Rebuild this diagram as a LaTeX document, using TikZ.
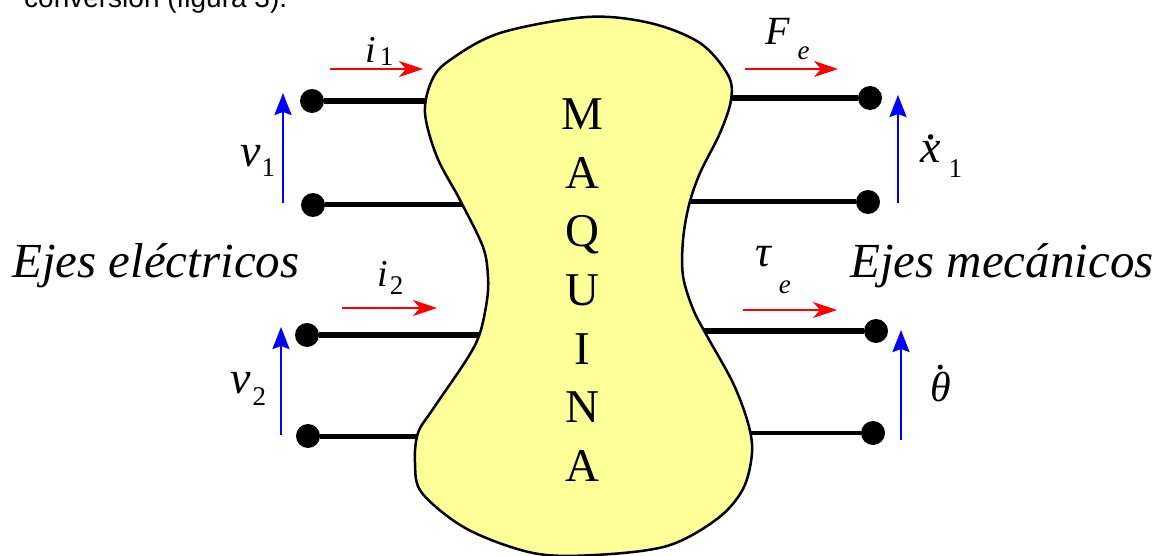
\documentclass[tikz,border=0pt]{standalone}
\usepackage{fontspec}
\IfFontExistsTF{Liberation Serif Italic}
  {\setmainfont{Liberation Serif}[ItalicFont={Liberation Serif Italic}]}
  {\setmainfont{Liberation Serif}[ItalicFont={Liberation Serif}, ItalicFeatures={FakeSlant=0.2}]}
\newfontfamily\topfont{Liberation Sans}
\usetikzlibrary{arrows.meta}
\definecolor{MachineYellow}{RGB}{255,255,153}
\definecolor{FlowRed}{RGB}{255,0,0}
\definecolor{EffortBlue}{RGB}{0,0,255}

% symbol, subscript, gap, drop
\newcommand{\subsize}{\fontsize{27}{27}\selectfont}
\newcommand{\sublab}[4]{#1\kern#3\raisebox{-#4}{\subsize #2}}
% dot over a symbol (time derivative)
\newcommand{\dotsym}[2][0pt]{\setbox0\hbox{#2}\rlap{\hbox to\wd0{\hss\kern#1\raisebox{\dimexpr\ht0+2pt\relax}{.}\hss}}\box0}

\tikzset{
  terminal/.style={circle, fill=black, inner sep=0pt, minimum size=24pt},
  flow/.style={FlowRed, line width=2pt, -{Stealth[length=24pt,width=16pt,inset=7pt]}},
  effort/.style={EffortBlue, line width=2.5pt, -{Stealth[length=22pt,width=17pt,inset=3pt]}},
  lab/.style={inner sep=0pt, anchor=base west},
}

\begin{document}
\begin{tikzpicture}[x=1pt,y=-1pt]
    \useasboundingbox (0,0) rectangle (1173,556);
    \clip (0,0) rectangle (1173,556);

    % text cut off by the top edge
    \node[lab, font=\topfont\fontsize{28}{28}\selectfont] (caption) at (24,8) {conversión (figura 3).};

    % terminals and wires
    \foreach \nm/\px/\py/\bx/\lw in {lone/312/101/445/5.5, ltwo/313/205/475/5,
        lthree/307/335/490/5.5, lfour/308/436/430/5,
        rone/870/98/715/5.5, rtwo/868/202/670/5,
        rthree/876/331/690/5.5, rfour/873/433/735/4} {
      \node[terminal] (\nm) at (\px,\py) {};
      \coordinate (\nm-b) at (\bx,\py);
      \draw[line width=\lw pt] (\nm) -- (\nm-b);
    }

    % machine body
    \draw[fill=MachineYellow, draw=black, line width=2.5pt]
      plot[smooth cycle, tension=0.55] coordinates {
        (587,17) (650,23) (700,43) (728,75) (731,100) (720,133) (700,173)
        (689,205) (683,240) (683,276) (693,309) (707,336) (733,383) (748,423)
        (752,453) (743,489) (717,519) (667,546) (595,555) (533,553) (467,529)
        (422,493) (415,463) (418,433) (433,409) (467,359) (480,333) (487,300)
        (488,277) (483,247) (460,200) (437,157) (425,113) (432,80) (450,60)
        (500,33)};

    % vertical name
    \foreach \ch [count=\k] in {M,A,Q,U,I,N,A} {
      \node[inner sep=0pt, anchor=base, font=\fontsize{47}{47}\selectfont] (m\k) at (582,{130+58.5*(\k-1)}) {\ch};
    }

    % currents, force and torque
    \foreach \nm/\xa/\xb/\yy in {ione/330/423/69, itwo/342/437/308,
        force/745/838/69, torque/743/837/310} {
      \coordinate (\nm-s) at (\xa,\yy);
      \coordinate (\nm-e) at (\xb,\yy);
      \draw[flow] (\nm-s) -- (\nm-e);
    }

    % voltages and speeds
    \foreach \nm/\xx/\ya/\yb in {vone/283/203/93, vtwo/281/435/327,
        xone/898/203/95, thone/901/440/330} {
      \coordinate (\nm-s) at (\xx,\ya);
      \coordinate (\nm-e) at (\xx,\yb);
      \draw[effort] (\nm-s) -- (\nm-e);
    }

    % labels
    \node[lab, font=\fontsize{38}{38}\selectfont\itshape] (ilab1) at (365,63) {\sublab{i}{\upshape 1}{4pt}{3pt}};
    \node[lab, font=\fontsize{38}{38}\selectfont\itshape] (ilab2) at (377,287) {\sublab{i}{\upshape 2}{2pt}{8pt}};
    \node[lab, font=\fontsize{46}{46}\selectfont\itshape] (vlab1) at (240,167) {\sublab{v}{\upshape 1}{1pt}{10pt}};
    \node[lab, font=\fontsize{46}{46}\selectfont\itshape] (vlab2) at (230,393) {\sublab{v}{\upshape 2}{2pt}{12pt}};
    \node[lab, font=\fontsize{40}{40}\selectfont\itshape] (flab) at (765,45) {\sublab{F}{e}{8pt}{15pt}};
    \node[lab, font=\fontsize{44}{44}\selectfont\itshape] (tlab) at (755,267) {\sublab{τ}{e}{8pt}{26pt}};
    \node[lab, font=\fontsize{46}{46}\selectfont\itshape] (xlab) at (920,163) {\sublab{\dotsym[3pt]{x}}{\upshape 1}{8pt}{15pt}};
    \node[lab, font=\fontsize{42}{42}\selectfont\itshape] (thlab) at (930,401) {\dotsym[3pt]{θ}};

    \node[lab, font=\fontsize{49}{49}\selectfont\itshape] (elec) at (12,277) {Ejes eléctricos};
    \node[lab, font=\fontsize{49}{49}\selectfont\itshape] (mech) at (850,277) {Ejes mecánicos};
\end{tikzpicture}
\end{document}
